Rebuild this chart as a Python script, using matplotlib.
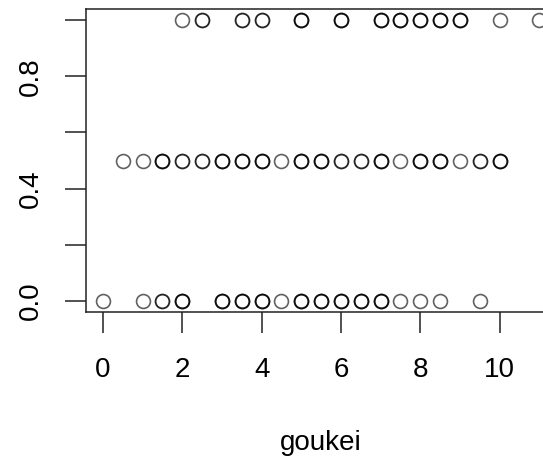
import numpy as np
import matplotlib
matplotlib.use("Agg")
import matplotlib.pyplot as plt

plt.rcParams['font.family'] = ['Liberation Sans', 'DejaVu Sans']

# goukei values at each response level, with how many points overlap there
x_low = [0, 1, 1.5, 2, 3, 3.5, 4, 4.5, 5, 5.5, 6, 6.5, 7, 7.5, 8, 8.5, 9.5]
n_low = [1, 1, 2, 3, 3, 3, 3, 1, 3, 3, 3, 3, 3, 1, 1, 1, 1]

x_mid = [0.5, 1, 1.5, 2, 2.5, 3, 3.5, 4, 4.5, 5, 5.5, 6, 6.5, 7, 7.5, 8, 8.5, 9, 9.5, 10]
n_mid = [1, 1, 3, 2, 2, 3, 3, 3, 1, 3, 3, 2, 2, 3, 1, 3, 3, 1, 2, 3]

x_high = [2, 2.5, 3.5, 4, 5, 6, 7, 7.5, 8, 8.5, 9, 10, 11]
n_high = [1, 2, 2, 2, 3, 3, 3, 3, 3, 3, 3, 1, 1]

levels = [0.0, 0.5, 1.0]

x_all = np.concatenate([np.repeat(x_low, n_low),
                        np.repeat(x_mid, n_mid),
                        np.repeat(x_high, n_high)])
y_all = np.concatenate([np.full(sum(n_low), levels[0]),
                        np.full(sum(n_mid), levels[1]),
                        np.full(sum(n_high), levels[2])])

fig = plt.figure(figsize=(5.43, 4.58), dpi=100)
ax = fig.add_axes([0.1575, 0.3183, 0.8678, 0.6624])

ax.plot(x_all, y_all, 'o', mfc='none', mec=(0, 0, 0, 0.62), ms=10, mew=1.2,
        linestyle='none', clip_on=False)

ax.set_xlim(-0.44, 11.44)
ax.set_ylim(-0.04, 1.04)

ax.set_xticks([0, 2, 4, 6, 8, 10])
ax.set_yticks([0.0, 0.2, 0.4, 0.6, 0.8, 1.0])
ax.set_yticklabels(['0.0', '', '0.4', '', '0.8', ''], rotation=90, va='center')

ax.tick_params(axis='both', length=15, width=1.1, labelsize=20, color='#222222')
ax.tick_params(axis='x', pad=17)
ax.tick_params(axis='y', pad=15)

for s in ax.spines.values():
    s.set_linewidth(1.1)
    s.set_color('#222222')

ax.set_xlabel('goukei', fontsize=20, labelpad=34)

fig.savefig('out.png', dpi=100)
